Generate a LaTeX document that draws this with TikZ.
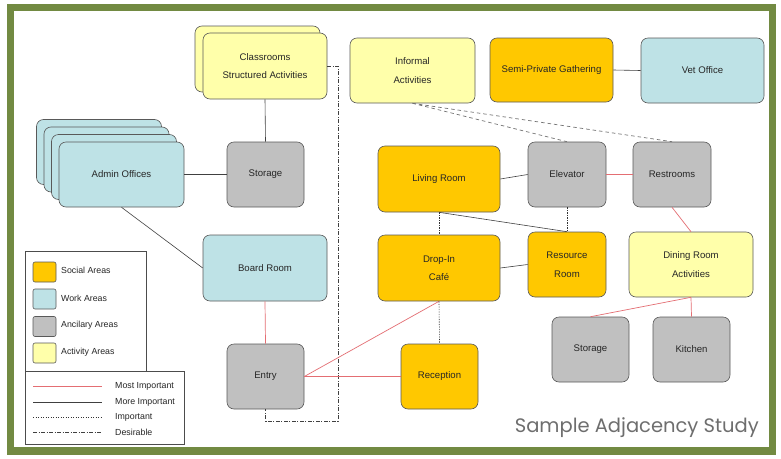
\documentclass[tikz,border=0pt]{standalone}
\usepackage{fontspec}
\setmainfont{Liberation Sans}
\newfontfamily\titlefont{Poppins}
\begin{document}
\begin{tikzpicture}[x=1pt,y=-1pt,
  room/.style={draw=black!65,line width=0.6pt,rounded corners=7pt,inner sep=0pt,
     align=center,font=\fontsize{9.6}{18.5}\selectfont,text=black!85},
  social/.style={room,fill=socialc},
  work/.style={room,fill=workc},
  ancil/.style={room,fill=ancilc},
  activ/.style={room,fill=activc},
  sz/.style 2 args={minimum width=#1pt,minimum height=#2pt},
  most/.style={draw=redc,line width=0.7pt},
  more/.style={draw=black!75,line width=0.6pt},
  imp/.style={draw=black!80,line width=0.6pt,dash pattern=on 1.2pt off 1.3pt},
  desir/.style={draw=black!75,line width=0.6pt,dash pattern=on 4pt off 1.5pt on 1pt off 1.5pt},
  dashg/.style={draw=black!55,line width=0.7pt,dash pattern=on 3.5pt off 3pt},
  swatch/.style={draw=black!65,line width=0.6pt,rounded corners=2pt,minimum width=23pt,minimum height=20pt,inner sep=0pt},
  legtext/.style={anchor=west,font=\fontsize{8.8}{10}\selectfont,text=black!85,inner sep=0pt}
]
\definecolor{socialc}{RGB}{255,200,0}
\definecolor{workc}{RGB}{190,226,230}
\definecolor{ancilc}{RGB}{192,192,192}
\definecolor{activc}{RGB}{255,255,170}
\definecolor{redc}{RGB}{228,110,115}
\definecolor{framec}{RGB}{114,138,66}
\definecolor{titlec}{RGB}{110,110,110}

\useasboundingbox (0,0) rectangle (781,458);
\fill[white] (0,0) rectangle (781,458);
\draw[framec,line width=7.5pt] (10.5,7.5) rectangle (772.5,451);

% stacked back shapes
\node[activ,sz={125}{66}] (cls2) at (257.5,59) {};
\node[activ,sz={124}{66}] (cls) at (265,66) {Classrooms\\Structured Activities};
\node[work,sz={125}{65}] (adm3) at (99,152) {};
\node[work,sz={125}{65}] (adm2) at (106.5,159.5) {};
\node[work,sz={125}{65}] (adm1) at (114,167) {};
\node[work,sz={125}{65}] (admin) at (121.5,174.5) {Admin Offices};

\node[activ,sz={125}{65}] (inf) at (412.5,70.5) {Informal\\Activities};
\node[social,sz={123}{64}] (semi) at (551.5,70) {Semi-Private Gathering};
\node[work,sz={123}{65}] (vet) at (702.5,70.5) {Vet Office};

\node[ancil,sz={77}{65}] (stor1) at (265.5,174.5) {Storage};
\node[social,sz={122}{66}] (living) at (439,179) {Living Room};
\node[ancil,sz={78}{65}] (elev) at (567,174.5) {Elevator};
\node[ancil,sz={78}{65}] (rest) at (672,174.5) {Restrooms};

\node[work,sz={124}{66}] (board) at (265,268) {Board Room};
\node[social,sz={122}{66}] (cafe) at (439,268) {Drop-In\\Café};
\node[social,sz={78}{65}] (res) at (567,264.5) {Resource\\Room};
\node[activ,sz={124}{65}] (dining) at (691,264.5) {Dining Room\\Activities};

\node[ancil,sz={77}{65}] (stor2) at (590.5,349.5) {Storage};
\node[ancil,sz={77}{65}] (kitchen) at (691.5,349.5) {Kitchen};
\node[ancil,sz={77}{65}] (entry) at (265.5,376.5) {Entry};
\node[social,sz={77}{65}] (recep) at (439.5,376.5) {Reception};

% connectors
\draw[more] (cls.south) -- (stor1.north);
\coordinate (d1) at (338,421);
\draw[desir] (cls.east) -| (d1) -| (entry.south);
\draw[more] (admin.east) -- (stor1.west);
\draw[more] (admin.south) -- (board.west);
\draw[most] (board.south) -- (entry.north);
\draw[most] (entry.east) -- (recep.west);
\draw[most] (entry.east) -- (cafe.south);
\draw[imp] (cafe.south) -- (recep.north);
\draw[imp] (living.south) -- (cafe.north);
\draw[more] (living.south) -- (res.north);
\draw[imp] (elev.south) -- (res.north);
\draw[more] (living.east) -- (elev.west);
\draw[most] (elev.east) -- (rest.west);
\draw[most] (rest.south) -- (dining.north);
\draw[more] (cafe.east) -- (res.west);
\draw[most] (dining.south) -- (kitchen.north);
\draw[most] (dining.south) -- (stor2.north);
\draw[more] (semi.east) -- (vet.west);
\draw[dashg] (inf.south) -- (elev.north);
\draw[dashg] (inf.south) -- (rest.north);

% legend
\node[draw=black!70,line width=0.6pt,minimum width=121pt,minimum height=120pt,inner sep=0pt] (leg1) at (85.5,311) {};
\node[draw=black!70,line width=0.6pt,minimum width=159pt,minimum height=73pt,inner sep=0pt] (leg2) at (104.5,407.5) {};
\node[swatch,fill=socialc] (s1) at (44.5,272) {};
\node[swatch,fill=workc] (s2) at (44.5,299) {};
\node[swatch,fill=ancilc] (s3) at (44.5,326.5) {};
\node[swatch,fill=activc] (s4) at (44.5,353) {};
\node[legtext] (t1) at (61,270) {Social Areas};
\node[legtext] (t2) at (61,298) {Work Areas};
\node[legtext] (t3) at (61,325) {Ancilary Areas};
\node[legtext] (t4) at (61,352) {Activity Areas};
\coordinate (la1) at (33,386); \coordinate (lb1) at (102,386);
\coordinate (la2) at (33,402); \coordinate (lb2) at (102,402);
\coordinate (la3) at (33,417); \coordinate (lb3) at (102,417);
\coordinate (la4) at (33,432); \coordinate (lb4) at (102,432);
\draw[most] (la1) -- (lb1);
\draw[more] (la2) -- (lb2);
\draw[imp] (la3) -- (lb3);
\draw[desir] (la4) -- (lb4);
\node[legtext] (m1) at (115,386) {Most Important};
\node[legtext] (m2) at (115,402) {More Important};
\node[legtext] (m3) at (115,417) {Important};
\node[legtext] (m4) at (115,432) {Desirable};

\node[anchor=base east,inner sep=0pt,text=titlec,font=\titlefont\fontsize{19.5}{22}\selectfont] (title) at (759,432) {Sample Adjacency Study};
\end{tikzpicture}
\end{document}
